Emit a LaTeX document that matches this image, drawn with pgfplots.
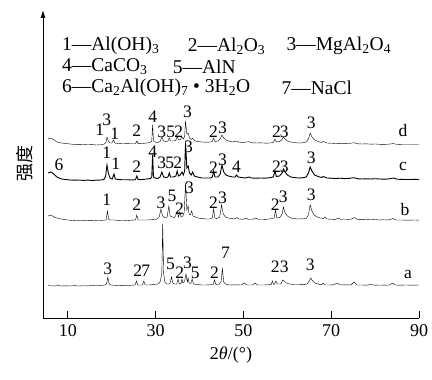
\documentclass[border=0pt]{standalone}
\usepackage{fontspec}
\setmainfont{Liberation Serif}
\newfontfamily\cjk{Noto Sans CJK SC}
\usepackage{pgfplots}
\pgfplotsset{compat=1.18}
\usetikzlibrary{arrows.meta}
\newcommand\pk{\fontsize{17.5}{17.5}\selectfont}
\newcommand\lab[3]{\node[font=\pk,inner sep=0pt] at (axis cs:#1,#2) {#3};}
\newcommand\leg[3]{\node[font=\fontsize{19.5}{21}\selectfont,inner sep=0pt,anchor=west] at (axis cs:#1,#2) {#3};}
\begin{document}
\fontsize{18}{21}\selectfont
\begin{tikzpicture}
\begin{axis}[name=ax,
  scale only axis, width=376pt, height=308pt,
  xmin=4.32, xmax=90, ymin=0, ymax=308,
  axis x line*=bottom, axis y line=left,
  y axis line style={-{Latex[length=8pt,width=5pt]}},
  axis line style={line width=0.9pt},
  xtick={10,30,50,70,90}, ytick=\empty,
  tick align=inside, major tick length=7pt,
  tick style={line width=0.9pt, black},
  /pgf/number format/assume math mode=true,
  tick label style={font=\fontsize{18}{20}\selectfont},
  xlabel={2\textit{θ}/(°)},
  ylabel={\cjk 强度},
  label style={font=\fontsize{18}{20}\selectfont},
  xlabel style={yshift=2pt},
  ylabel style={yshift=4pt},
  clip=false,
  cycle list={{black, no markers, line width=0.9pt, line join=round}},
]
% pattern a
\addplot coordinates {(5.5,32.5)(6.5,32)(7.5,32.3)(8,33)(8.3,32)(9.5,32.2)(10.5,32)(11.5,32.4)(12.5,32)(13.5,32.3)(14.5,32.1)(15.5,32.5)(16.5,32.2)(17.5,32.6)(18.5,33)(18.8,34)(19.1,41)(19.4,34)(19.8,33)(20.5,32.8)(21.5,32.5)(22.5,32.7)(23.5,32.4)(24.5,32.8)(25.3,33)(25.6,37)(25.9,33)(26.5,33)(27.0,33)(27.3,37)(27.6,33)(28.5,33)(29.5,33.5)(30.5,34)(31.0,36)(31.4,45)(31.6,94)(31.8,45)(32.1,36)(32.5,34)(33.0,34)(33.3,35)(33.6,41)(33.9,35)(34.3,34)(34.8,34)(35.1,39)(35.4,34)(35.8,35)(36.0,39)(36.2,35)(36.6,37)(36.9,44)(37.2,36)(37.4,40)(37.6,35)(38.0,34.5)(38.3,39)(38.6,34)(39.5,33.5)(40.5,33)(41.5,33)(42.5,33.2)(43.1,33.5)(43.4,38)(43.7,33.5)(44.5,34)(44.9,36)(45.2,49)(45.5,36)(45.9,34)(46.8,33)(48,33.2)(49.5,33)(50.2,35)(50.8,33)(52,33)(52.6,35)(53.2,33)(54.5,33)(55.5,33.2)(56.3,33.5)(56.6,37)(56.9,33.5)(57.1,34)(57.4,37)(57.7,34)(58.5,34)(59.0,38)(59.3,37)(59.8,35)(60.5,34)(61.5,33.5)(62.5,33.5)(63.5,33.3)(64.5,34)(65.0,37)(65.3,40)(65.8,37)(66.3,35)(67,34)(67.8,33)(68.2,35)(68.6,33)(69.5,33)(70.5,33.2)(71.4,35)(72,33)(73,33.2)(74.5,33)(75.2,36)(75.8,33)(77,33)(78,32.8)(79,33.5)(80,32.8)(81,33)(82,32.8)(83.3,33)(84,35)(84.6,33)(85.5,32.8)(87,33)(88.5,32.8)(90,33)};
% pattern b
\addplot coordinates {(5.5,102)(6,103)(6.5,102)(7,100.5)(8,99.5)(9,98.5)(10,98)(11,97.5)(12,97.8)(13,97.2)(14,97.6)(15,97.3)(16,97.5)(17,97.2)(18,97.8)(18.7,98)(19.0,107)(19.3,98.5)(19.8,98)(20.5,98)(21.5,97.6)(22.5,97.8)(23.5,97.5)(24.5,97.8)(25.4,98)(25.7,103)(26.0,98)(27,98)(28,98)(29,98.3)(29.8,98.5)(30.3,99)(30.8,101)(31.2,109)(31.5,103)(31.8,101)(32.2,100)(32.6,101)(33.0,112)(33.3,102)(33.8,101)(34.3,100.5)(34.6,103)(34.9,107)(35.2,101)(35.5,106)(35.8,101)(36.2,102)(36.5,106)(36.8,135)(37.1,108)(37.4,112)(37.6,104)(37.9,103)(38.2,107)(38.5,102)(39,101)(39.6,100)(40.5,99.5)(41.5,99)(42.3,99)(42.9,100)(43.2,109)(43.5,100)(44.0,99.5)(44.6,101)(45.0,113)(45.4,104)(45.9,101)(46.5,100)(47.3,99.5)(48.0,99)(48.5,100.5)(49.0,99)(50,98.7)(50.6,100)(51.1,98.5)(52,98.5)(52.8,100)(53.4,98.5)(54.5,98.5)(55.5,98.8)(56.5,99.5)(57.0,100)(57.3,108)(57.6,100)(58.3,100.5)(58.8,104)(59.1,111)(59.5,105)(60.0,102)(60.8,100)(61.5,99.5)(62.5,99)(63.5,99.2)(64.3,99.5)(64.8,103)(65.2,113)(65.6,107)(66.1,103)(66.8,101)(67.5,100)(68.2,99.5)(68.6,101)(69,99)(70,98.8)(71,98.5)(71.6,100)(72.2,98.5)(73.5,98.5)(74.5,98.8)(75.3,100.5)(76,98.5)(77,98.3)(78,98.5)(79,98.2)(80,98.5)(81,98)(82,98.3)(83,98)(84.1,99.5)(84.7,98)(86,98)(87.5,97.8)(89,98)(90,97.8)};
% pattern c
\addplot coordinates {(5.5,145)(6,146)(6.5,145)(7,143)(7.5,141)(8,140)(8.5,139)(9.5,138.5)(10.5,138)(11.5,137.8)(12.5,138)(13.5,137.6)(14.5,137.9)(15.5,137.5)(16.5,137.8)(17.5,138)(18.2,138.5)(18.6,142)(18.9,153)(19.2,145)(19.6,140)(20.1,139)(20.5,144)(20.8,139)(21.5,138.5)(22.5,138.2)(23.5,138.3)(24.5,138)(25.4,138.3)(25.7,142)(26,138.3)(27,138.5)(28,139)(28.8,139.5)(29.1,141)(29.3,163)(29.5,141)(29.8,140)(30.5,139.5)(31.0,141)(31.4,146)(31.8,141)(32.3,140.5)(32.8,141)(33.1,145)(33.4,141)(34.0,141)(34.6,142)(34.9,147)(35.2,142)(35.6,143)(36.0,146)(36.3,143)(36.6,147)(36.8,175)(37.1,150)(37.4,152)(37.7,145)(38.1,143)(38.4,146)(38.8,142)(39.5,141)(40.5,140)(41.5,140)(42.5,140)(42.9,141)(43.2,147)(43.5,141)(44.2,141)(44.7,144)(45.1,153)(45.5,146)(46.0,143)(46.6,142)(47.5,141)(48.1,141)(48.4,143)(48.8,141)(49.5,140.5)(50.5,140)(51.2,141)(51.8,140)(53,139.8)(54,140)(55,139.8)(56,140.3)(56.8,141)(57.2,147)(57.5,141.5)(58.2,142)(58.8,145)(59.1,149)(59.5,146)(60.0,143)(60.8,141)(61.5,140.5)(62.5,140)(63.5,140.2)(64.3,141)(64.8,145)(65.2,151)(65.6,147)(66.2,143)(67,141.5)(67.8,140.5)(68.2,141.5)(69,140)(70,139.8)(71,139.5)(72,139.8)(73,139.4)(74,139.6)(75.2,140.3)(76,139.2)(77,139)(78,139.2)(79,139)(80,139.3)(81,139)(82,138.8)(83,139)(84.2,140)(85,138.8)(86,138.6)(87.5,138.5)(89,138.6)(90,138.5)};
% pattern d
\addplot coordinates {(5.5,179)(6,180)(6.5,179)(7,177.5)(7.5,176)(8.5,175)(9.5,174.5)(10.5,174)(11.5,173.5)(12.5,173.3)(13.5,173.5)(14.5,173.2)(15.5,173.4)(16.5,173)(17.5,173.3)(18.3,174)(18.7,176)(18.9,181)(19.2,177)(19.6,175)(20.0,175)(20.4,178)(20.7,175)(21.5,174.5)(22.5,174.2)(23.5,174.4)(24.5,174.2)(25.4,174.3)(25.7,177)(26.0,174.3)(27,174.5)(28,175)(28.8,175.5)(29.1,177)(29.3,193)(29.5,177)(29.8,176)(30.5,175.5)(31.0,176.5)(31.4,181)(31.8,177)(32.3,176.5)(32.8,177)(33.1,180)(33.4,177)(34.0,177)(34.6,177.5)(34.9,182)(35.2,178)(35.6,178.5)(36.0,181)(36.3,179)(36.6,182)(36.8,197)(37.1,184)(37.4,185)(37.7,180)(38.1,178.5)(38.4,180)(38.8,177.5)(39.5,176.5)(40.5,176)(41.5,175.8)(42.5,176)(42.9,176.5)(43.2,180)(43.5,176.5)(44.2,177)(44.7,179)(45.1,183)(45.5,180)(46.0,178)(46.6,177)(47.5,176)(48.4,177)(49,175.8)(50,175.5)(51.2,176.3)(52,175.2)(53,175)(54,175.2)(55,174.8)(56,175)(56.8,175.5)(57.2,179)(57.5,176)(58.2,176.5)(58.8,178.5)(59.1,181)(59.5,179)(60,177)(60.8,176)(61.5,175.5)(62.5,175)(63.5,175.2)(64.3,176)(64.8,179)(65.2,185)(65.6,181)(66.2,178)(67,176.5)(67.8,175.5)(68.2,176.5)(69,175)(70,174.8)(71,174.5)(72,174.7)(73,174.3)(74,174.5)(75.2,175.3)(76,174.2)(77,174)(78,174.2)(79,173.8)(80,174)(81,173.7)(82,173.6)(83,173.8)(84.2,174.4)(85,173.5)(86,173.3)(87.5,173.2)(89,173.3)(90,173.2)};
% legend text
\leg{8.64}{272}{1—Al(OH)\textsubscript{3}}
\leg{37.27}{272}{2—Al\textsubscript{2}O\textsubscript{3}}
\leg{59.77}{272}{3—MgAl\textsubscript{2}O\textsubscript{4}}
\leg{8.64}{251}{4—CaCO\textsubscript{3}}
\leg{33.86}{251}{5—AlN}
\leg{8.64}{230}{6—Ca\textsubscript{2}Al(OH)\textsubscript{7} \textbullet\ 3H\textsubscript{2}O}
\leg{58.64}{230}{7—NaCl}
% d labels
\lab{17.27}{188}{1}\lab{18.86}{198}{3}\lab{20.68}{184}{1}\lab{25.68}{187}{2}
\lab{29.32}{201}{4}\lab{31.36}{186}{3}\lab{33.41}{186}{5}\lab{35.23}{186}{2}
\lab{37.27}{206}{3}\lab{43.18}{186}{2}\lab{45.23}{190}{3}\lab{57.5}{186}{2}
\lab{59.32}{186}{3}\lab{65.45}{195}{3}\lab{86.36}{187}{d}
% c labels
\lab{7.95}{153}{6}\lab{18.86}{165}{1}\lab{20.91}{154}{1}\lab{25.68}{151}{2}
\lab{29.32}{166}{4}\lab{31.36}{155}{3}\lab{33.18}{155}{5}\lab{35.0}{155}{2}
\lab{37.5}{171}{3}\lab{43.18}{150}{2}\lab{45.23}{158}{3}\lab{48.41}{151}{4}
\lab{57.5}{151}{2}\lab{59.32}{151}{3}\lab{65.45}{160}{3}\lab{86.36}{152}{c}
% b labels
\lab{18.86}{118}{1}\lab{25.68}{113}{2}\lab{31.2}{115}{3}\lab{33.7}{122}{5}
\lab{35.4}{109}{2}\lab{37.73}{130}{3}\lab{43.18}{115}{2}\lab{45.23}{120}{3}
\lab{57.27}{113}{2}\lab{59.09}{121}{3}\lab{65.45}{123}{3}\lab{86.82}{108}{b}
% a labels
\lab{19.09}{49}{3}\lab{25.91}{47}{2}\lab{27.73}{47}{7}\lab{33.4}{54}{5}
\lab{35.5}{45}{2}\lab{37.27}{55}{3}\lab{39.0}{45}{5}\lab{43.41}{45}{2}
\lab{45.91}{65}{7}\lab{57.27}{51}{2}\lab{59.32}{51}{3}\lab{65.23}{53}{3}
\lab{87.5}{44}{a}
\end{axis}
\pgfresetboundingbox
\path ([shift={(-43pt,-62pt)}]ax.south west) rectangle ([shift={(389pt,318pt)}]ax.south west);
\end{tikzpicture}
\end{document}
